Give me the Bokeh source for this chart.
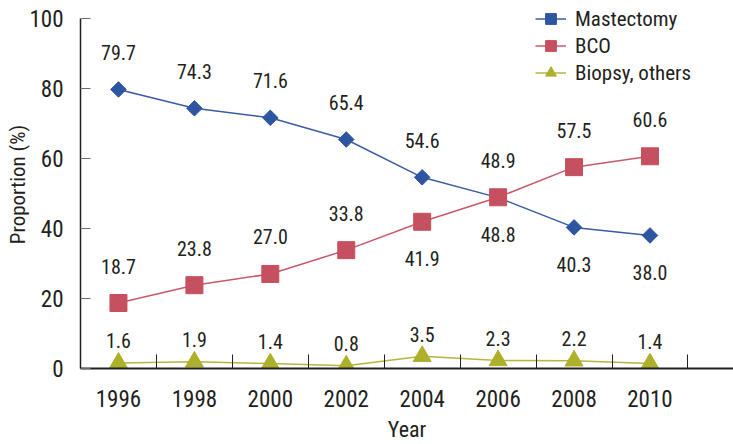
import math
from bokeh.plotting import figure
from bokeh.models import Range1d, FixedTicker, Legend, LegendItem, ColumnDataSource
from bokeh.core.properties import value
from bokeh.embed import file_html
from bokeh.resources import INLINE

# ---- data ----
years = ["1996", "1998", "2000", "2002", "2004", "2006", "2008", "2010"]
mastectomy = [79.7, 74.3, 71.6, 65.4, 54.6, 48.8, 40.3, 38.0]
bco = [18.7, 23.8, 27.0, 33.8, 41.9, 48.9, 57.5, 60.6]
biopsy = [1.6, 1.9, 1.4, 0.8, 3.5, 2.3, 2.2, 1.4]
y_ticks = [0, 20, 40, 60, 80, 100]

# label placement (above / below the point)
mastectomy_pos = ["above", "above", "above", "above", "above", "below", "below", "below"]
bco_pos = ["above", "above", "above", "above", "below", "above", "above", "above"]
biopsy_pos = ["above"] * 8

FONT = "Roboto Condensed"
TXT = "#231f20"

W, H = 733, 444
FRAME_H = 371            # frame runs from the top of the canvas to the x axis
AXIS_H = 353             # pixels between y = 0 and y = 100
y_end = y_ticks[-1] * FRAME_H / AXIS_H

p = figure(width=W, height=H, output_backend="svg", toolbar_location=None,
           x_range=Range1d(0, 8.6), y_range=Range1d(0, y_end),
           min_border_left=80, min_border_right=0, min_border_top=0,
           min_border_bottom=H - FRAME_H)
p.outline_line_color = None
p.grid.visible = False
p.background_fill_color = "white"

xs = [i + 0.5 for i in range(len(years))]

series = [
    ("Mastectomy", mastectomy, mastectomy_pos, "#3a5ba6", "#2e56a0", "square", 11, math.pi / 4, 37),
    ("BCO", bco, bco_pos, "#c8586a", "#c5505f", "square", 17, 0.0, 37),
    ("Biopsy, others", biopsy, biopsy_pos, "#b5b63a", "#adb02a", "triangle", 18, 0.0, 22),
]

items = []
for name, vals, pos, lcol, mcol, marker, size, ang, off in series:
    src = ColumnDataSource(dict(
        x=xs, y=vals,
        lab=[f"{v:.1f}" for v in vals],
        yo=[-off if s == "above" else off for s in pos],
    ))
    l = p.line("x", "y", source=src, line_color=lcol, line_width=1.5)
    s = p.scatter("x", "y", source=src, marker=marker, size=size, angle=ang,
                  fill_color=mcol, line_color=mcol)
    p.text("x", "y", text="lab", source=src, y_offset="yo", text_align="center",
           text_baseline="middle", text_font=value(FONT), text_font_size="20px",
           text_color=TXT)
    items.append(LegendItem(label=name, renderers=[l, s]))

legend = Legend(items=items, location=(455, FRAME_H - 89), glyph_width=31, glyph_height=27,
                spacing=0, padding=0, margin=0, label_standoff=9,
                label_text_font=FONT, label_text_font_size="21px",
                label_text_color=TXT, background_fill_alpha=0,
                border_line_color=None)
p.add_layout(legend)

# x axis
xa = p.xaxis[0]
xa.ticker = FixedTicker(ticks=xs, minor_ticks=list(range(0, 9)))
xa.major_label_overrides = {x: y for x, y in zip(xs, years)}
xa.major_tick_line_color = None
xa.major_tick_in = 0
xa.major_tick_out = 0
xa.minor_tick_in = 14
xa.minor_tick_out = 0
xa.minor_tick_line_color = TXT
xa.axis_line_color = TXT
xa.axis_line_width = 2
xa.major_label_standoff = 21
xa.major_label_text_font = FONT
xa.major_label_text_font_size = "23px"
xa.major_label_text_color = TXT
xa.axis_label = "Year"
xa.axis_label_text_font = FONT
xa.axis_label_text_font_size = "22px"
xa.axis_label_text_font_style = "normal"
xa.axis_label_text_color = TXT
xa.axis_label_standoff = 7

# y axis
ya = p.yaxis[0]
ya.ticker = FixedTicker(ticks=y_ticks)
ya.bounds = (y_ticks[0], y_ticks[-1])
ya.major_tick_in = 10
ya.major_tick_out = 0
ya.major_tick_line_color = "#6d6e71"
ya.minor_tick_line_color = None
ya.axis_line_color = TXT
ya.axis_line_width = 1.5
ya.major_label_standoff = 17
ya.major_label_text_font = FONT
ya.major_label_text_font_size = "23px"
ya.major_label_text_color = TXT
ya.axis_label = "Proportion (%)"
ya.axis_label_text_font = FONT
ya.axis_label_text_font_size = "21px"
ya.axis_label_text_font_style = "normal"
ya.axis_label_text_color = TXT
ya.axis_label_standoff = -4

open("out.html", "w").write(file_html(p, INLINE))
